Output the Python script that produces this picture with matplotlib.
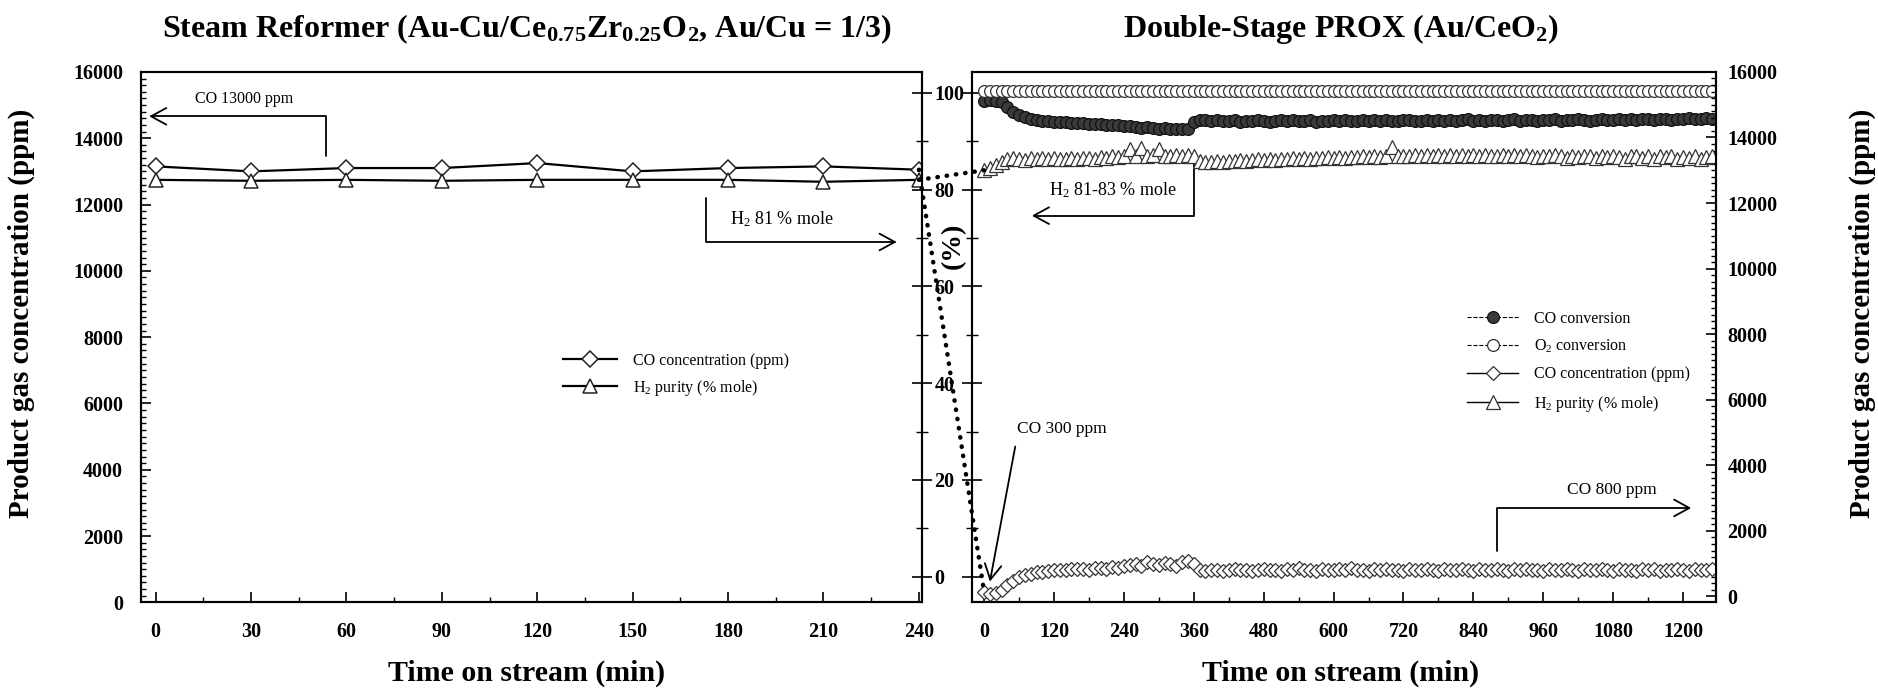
import matplotlib
matplotlib.use("Agg")
import matplotlib.pyplot as plt
from matplotlib.ticker import MultipleLocator
from matplotlib.patches import ConnectionPatch

plt.rcParams['font.family'] = ['Liberation Serif', 'DejaVu Serif']
plt.rcParams['mathtext.default'] = 'regular'

# ---- steam reformer (left panel) ----
t_sr = [0, 30, 60, 90, 120, 150, 180, 210, 240]
co_ppm_sr = [13150, 13000, 13100, 13100, 13250, 13000, 13100, 13150, 13050]
h2_sr = [82.0, 81.8, 82.0, 81.8, 82.0, 82.0, 82.0, 81.6, 82.0]

# ---- double-stage PROX (right panel), sampled every 10 min ----
t_prox = list(range(0, 1251, 10))

co_conv = [
    98.3, 98.5, 98.2, 98.0,
    97.1, 96.0, 95.3, 94.9, 94.6, 94.4, 94.2,
    94.1, 94.0, 93.9, 94.0, 93.8, 93.7, 93.8, 93.6, 93.5, 93.6, 93.4, 93.3, 93.4, 93.2,
    93.1, 93.0, 92.8, 92.9, 92.7, 92.6, 92.8, 92.5, 92.4, 92.6, 92.4,
    93.9, 94.3, 94.4, 94.2, 94.3, 94.1, 94.2, 94.3, 94.0, 94.2,
    94.1, 94.3, 94.2, 94.0, 94.1, 94.3, 94.2, 94.4, 94.1, 94.2,
    94.3, 94.0, 94.2, 94.1, 94.3, 94.2, 94.4, 94.1, 94.2, 94.3,
    94.1, 94.4, 94.2, 94.3, 94.1, 94.2, 94.4, 94.3, 94.1, 94.2,
    94.3, 94.2, 94.4, 94.1, 94.3, 94.2, 94.3, 94.5, 94.2, 94.3,
    94.1, 94.3, 94.4, 94.2, 94.3, 94.5, 94.2, 94.4, 94.3, 94.2,
    94.4, 94.3, 94.5, 94.2, 94.4, 94.3, 94.5, 94.4, 94.2, 94.4,
    94.5, 94.3, 94.4, 94.6, 94.3, 94.5, 94.4, 94.6, 94.5, 94.3,
    94.6, 94.5, 94.4, 94.6, 94.5, 94.7, 94.5, 94.6, 94.7, 94.6,
]

o2_conv = [
    100.4, 100.4, 100.4, 100.4, 100.4, 100.4, 100.4, 100.4, 100.4, 100.4,
    100.4, 100.4, 100.4, 100.4, 100.4, 100.4, 100.4, 100.4, 100.4, 100.4,
    100.4, 100.4, 100.4, 100.4, 100.4, 100.4, 100.4, 100.4, 100.4, 100.4,
    100.4, 100.4, 100.4, 100.4, 100.4, 100.4, 100.4, 100.4, 100.4, 100.4,
    100.4, 100.4, 100.4, 100.4, 100.4, 100.4, 100.4, 100.4, 100.4, 100.4,
    100.4, 100.4, 100.4, 100.4, 100.4, 100.4, 100.4, 100.4, 100.4, 100.4,
    100.4, 100.4, 100.4, 100.4, 100.4, 100.4, 100.4, 100.4, 100.4, 100.4,
    100.4, 100.4, 100.4, 100.4, 100.4, 100.4, 100.4, 100.4, 100.4, 100.4,
    100.4, 100.4, 100.4, 100.4, 100.4, 100.4, 100.4, 100.4, 100.4, 100.4,
    100.4, 100.4, 100.4, 100.4, 100.4, 100.4, 100.4, 100.4, 100.4, 100.4,
    100.4, 100.4, 100.4, 100.4, 100.4, 100.4, 100.4, 100.4, 100.4, 100.4,
    100.4, 100.4, 100.4, 100.4, 100.4, 100.4, 100.4, 100.4, 100.4, 100.4,
    100.4, 100.4, 100.4, 100.4, 100.4, 100.4,
]

co_ppm_prox = [
    150, 80, 120, 200,
    350, 480, 580, 650, 700, 740, 760, 780,
    800, 820, 810, 840, 830, 850, 820, 860, 880, 850, 900, 870, 920,
    950, 1000, 920, 1050, 980, 960, 1020, 1000, 940, 1050, 1080, 1000,
    820, 780, 800, 820, 790, 810, 830, 800, 820, 790,
    810, 840, 800, 820, 790, 830, 810, 860, 800, 820,
    790, 830, 810, 800, 840, 810, 860, 800, 820, 790,
    830, 810, 850, 800, 820, 790, 830, 810, 800, 840,
    810, 790, 830, 800, 820, 840, 810, 790, 830, 800,
    820, 850, 810, 790, 830, 810, 850, 800, 820, 790,
    830, 810, 800, 840, 810, 790, 830, 800, 820, 850,
    810, 790, 830, 800, 820, 780, 830, 810, 840, 790,
    820, 800, 840, 810, 790, 830, 810, 800, 850,
]

h2_prox = [
    13000, 13080, 13150, 13250,
    13330, 13380, 13350, 13320, 13370, 13340, 13360, 13330, 13380, 13350,
    13340, 13370, 13330, 13360, 13380, 13350, 13400, 13370, 13420, 13390, 13430,
    13650, 13450, 13680, 13430, 13470, 13640, 13450, 13420, 13480, 13440, 13460,
    13420, 13280, 13240, 13250, 13270, 13260, 13290, 13280, 13300, 13290,
    13310, 13330, 13300, 13340, 13320, 13350, 13330, 13360, 13340, 13370,
    13350, 13380, 13360, 13390, 13370, 13400, 13380, 13410, 13390, 13420,
    13400, 13430, 13410, 13440, 13720, 13420, 13450, 13430, 13460, 13440,
    13470, 13440, 13460, 13430, 13470, 13450, 13480, 13440, 13460, 13430,
    13470, 13450, 13420, 13460, 13440, 13470, 13430, 13460, 13440, 13410,
    13450, 13430, 13460, 13420, 13380, 13440, 13410, 13450, 13420, 13360,
    13430, 13400, 13440, 13410, 13350, 13420, 13450, 13380, 13430, 13340,
    13420, 13390, 13440, 13350, 13410, 13380, 13430, 13340, 13400, 13420,
]

BOLD = dict(fontweight='bold')

fig = plt.figure(figsize=(18.78, 6.94), dpi=100)
ax1 = fig.add_axes([0.0752, 0.132, 0.4158, 0.7644])
ax2 = fig.add_axes([0.5178, 0.132, 0.3961, 0.7644])
ax1p = ax1.twinx()
ax2p = ax2.twinx()

# left panel
l_co, = ax1.plot(t_sr, co_ppm_sr, '-', color='k', lw=1.6, marker='D', ms=8.5,
                 mfc='white', mec='#222222', mew=1.1, label='CO concentration (ppm)')
l_h2, = ax1p.plot(t_sr, h2_sr, '-', color='k', lw=1.6, marker='^', ms=10,
                  mfc='white', mec='#222222', mew=1.1, label='H$_2$ purity (% mole)')

ax1.set_xlim(-4.5, 241)
ax1.set_ylim(0, 16000)
ax1.xaxis.set_major_locator(MultipleLocator(30))
ax1.xaxis.set_minor_locator(MultipleLocator(15))
ax1.yaxis.set_major_locator(MultipleLocator(2000))
ax1.yaxis.set_minor_locator(MultipleLocator(200))
ax1.tick_params(axis='both', which='major', direction='in', length=7, width=1.2, pad=14)
ax1.tick_params(axis='both', which='minor', direction='in', length=3.5, width=1.0)
ax1.tick_params(axis='y', which='major', pad=13)

ax1p.set_ylim(-5.3, 104.3)
ax1p.set_yticks([0, 20, 40, 60, 80, 100])
ax1p.yaxis.set_minor_locator(MultipleLocator(10))
ax1p.tick_params(axis='y', which='major', direction='inout', length=14, width=1.2, pad=2)
ax1p.tick_params(axis='y', which='minor', direction='inout', length=9, width=1.0)

# right panel
c_co, = ax2.plot(t_prox, co_conv, '--', color='k', lw=0.8, marker='o', ms=8.5,
                 mfc='#3a3a3a', mec='#111111', mew=0.9, label='CO conversion')
c_o2, = ax2.plot(t_prox, o2_conv, '--', color='k', lw=0.8, marker='o', ms=8.5,
                 mfc='white', mec='#333333', mew=0.9, label='O$_2$ conversion')
d_co, = ax2p.plot(t_prox, co_ppm_prox, '-', color='k', lw=1.0, marker='D', ms=7.5,
                  mfc='white', mec='#333333', mew=0.9, label='CO concentration (ppm)')
d_h2, = ax2p.plot(t_prox, h2_prox, '-', color='k', lw=1.0, marker='^', ms=9.5,
                  mfc='white', mec='#333333', mew=0.9, label='H$_2$ purity (% mole)')

ax2.set_xlim(-20, 1257)
ax2.set_ylim(-5.3, 104.3)
ax2.xaxis.set_major_locator(MultipleLocator(120))
ax2.xaxis.set_minor_locator(MultipleLocator(60))
ax2.set_yticks([0, 20, 40, 60, 80, 100])
ax2.yaxis.set_minor_locator(MultipleLocator(10))
ax2.tick_params(axis='x', which='major', direction='in', length=7, width=1.2, pad=14)
ax2.tick_params(axis='x', which='minor', direction='in', length=3.5, width=1.0)
ax2.tick_params(axis='y', which='major', direction='inout', length=14, width=1.2, labelleft=False)
ax2.tick_params(axis='y', which='minor', direction='inout', length=9, width=1.0)

ax2p.set_ylim(-180, 16000)
ax2p.yaxis.set_major_locator(MultipleLocator(2000))
ax2p.yaxis.set_minor_locator(MultipleLocator(200))
ax2p.tick_params(axis='y', which='major', direction='in', length=7, width=1.2, pad=8)
ax2p.tick_params(axis='y', which='minor', direction='in', length=3.5, width=1.0)

for ax in (ax1, ax2, ax1p, ax2p):
    for sp in ax.spines.values():
        sp.set_linewidth(1.5)
    for lab in ax.get_xticklabels() + ax.get_yticklabels():
        lab.set_fontsize(14.5)
        lab.set_fontweight('bold')

# dotted links between the two stages
for (xa, ya, axa), (xb, yb, axb) in [
        ((t_sr[-1], h2_sr[-1], ax1p), (t_prox[0], h2_prox[0], ax2p)),
        ((t_sr[-1], co_ppm_sr[-1], ax1), (t_prox[0], co_ppm_prox[0], ax2p))]:
    con = ConnectionPatch(xyA=(xa, ya), coordsA=axa.transData,
                          xyB=(xb, yb), coordsB=axb.transData,
                          color='k', lw=3.2, linestyle=(0, (0.1, 2.0)),
                          capstyle='round', zorder=5)
    fig.add_artist(con)

# annotations
arrow = dict(arrowstyle='->,head_length=0.55,head_width=0.3', color='k', lw=1.3,
             mutation_scale=20, shrinkA=0, shrinkB=0)
ang_v = dict(arrow, connectionstyle='angle,angleA=90,angleB=0,rad=0')

ax1.text(28, 15170, 'CO 13000 ppm', fontsize=11.5, ha='center', va='center')
ax1.annotate('', xy=(-2, 14660), xytext=(53.7, 13470), arrowprops=ang_v)
ax1.text(197, 11560, 'H$_2$ 81 % mole', fontsize=13, ha='center', va='center')
ax1.annotate('', xy=(233, 10870), xytext=(173, 12210), arrowprops=ang_v)

ax2.text(222, 79.8, 'H$_2$ 81-83 % mole', fontsize=13, ha='center', va='center')
ax2.annotate('', xy=(82, 74.6), xytext=(360, 85.3), arrowprops=ang_v)
ax2.text(134, 30.6, 'CO 300 ppm', fontsize=12.5, ha='center', va='center')
ax2.annotate('', xy=(10, -1.0), xytext=(53.5, 26.9), arrowprops=arrow)
ax2p.text(1077, 3250, 'CO 800 ppm', fontsize=12.5, ha='center', va='center')
ax2p.annotate('', xy=(1214, 2700), xytext=(881, 1390), arrowprops=ang_v)

# legends
ax1p.legend(handles=[l_co, l_h2], loc='upper left', bbox_to_anchor=(0.54, 0.47),
            frameon=False, fontsize=11.5, handlelength=3.4, handletextpad=1.0,
            labelspacing=0.55, borderaxespad=0, borderpad=0)
ax2p.legend(handles=[c_co, c_o2, d_co, d_h2], loc='upper left',
            bbox_to_anchor=(0.665, 0.55), frameon=False, fontsize=11.5,
            handlelength=3.2, handletextpad=1.0, labelspacing=0.7,
            borderaxespad=0, borderpad=0)

# titles and axis labels
fig.text(0.2806, 0.958, 'Steam Reformer (Au-Cu/Ce$_{0.75}$Zr$_{0.25}$O$_2$, Au/Cu = 1/3)',
         fontsize=23, ha='center', va='center', **BOLD)
fig.text(0.714, 0.958, 'Double-Stage PROX (Au/CeO$_2$)',
         fontsize=23, ha='center', va='center', **BOLD)
fig.text(0.2806, 0.03, 'Time on stream (min)', fontsize=21.5, ha='center', va='center', **BOLD)
fig.text(0.714, 0.03, 'Time on stream (min)', fontsize=21.5, ha='center', va='center', **BOLD)
fig.text(0.0115, 0.548, 'Product gas concentration (ppm)', fontsize=21, rotation=90,
         ha='center', va='center', **BOLD)
fig.text(0.9917, 0.548, 'Product gas concentration (ppm)', fontsize=21, rotation=90,
         ha='center', va='center', **BOLD)
fig.text(0.5076, 0.646, '(%)', fontsize=20, rotation=90, ha='center', va='center', **BOLD)

fig.savefig('out.png', dpi=100)
